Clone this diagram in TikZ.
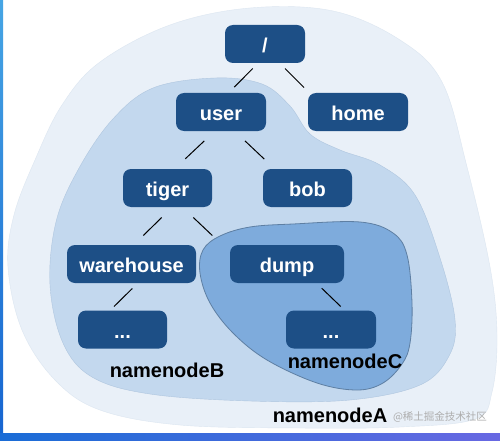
\documentclass[tikz,border=0pt]{standalone}
\usepackage{fontspec}
\setmainfont{Liberation Sans}
\newfontfamily\cjkfont{Noto Sans CJK SC}
\usetikzlibrary{positioning}

\definecolor{dirblue}{HTML}{1D4F86}
\definecolor{areaA}{HTML}{E9F0F8}
\definecolor{edgeA}{HTML}{DCE6F1}
\definecolor{areaB}{HTML}{C3D8EE}
\definecolor{edgeB}{HTML}{AFC6DF}
\definecolor{areaC}{HTML}{7EABDC}
\definecolor{edgeC}{HTML}{5E7FA3}

\begin{document}
\begin{tikzpicture}[x=1pt, y=-1pt,
    dir node/.style = {
        rectangle,
        rounded corners=8pt,
        fill=dirblue,
        text=white,
        font=\fontsize{20}{24}\selectfont\bfseries,
        minimum width=#1,
        minimum height=38pt,
        text height=17pt,
        text depth=0pt,
        inner sep=0pt
    },
    dir node/.default = 89pt,
    link/.style = {line width=1pt, black},
    area label/.style = {font=\fontsize{20}{24}\selectfont\bfseries, inner sep=0pt}
]

\useasboundingbox (0,0) rectangle (500,441);
\fill[white] (0,0) rectangle (500,441);

% frame of the screenshot
\shade[top color={rgb,255:red,70;green,165;blue,228}, bottom color={rgb,255:red,22;green,100;blue,208}]
    (0,0) rectangle (3,441);
\shade[left color={rgb,255:red,26;green,108;blue,214}, right color={rgb,255:red,104;green,104;blue,226}]
    (0,433.5) rectangle (500,441);

% namespaces
\filldraw[fill=areaA, draw=edgeA] plot[smooth cycle, tension=0.6] coordinates {
    (250,8) (333,11) (400,40) (442,82) (467,167) (490,267) (497,335) (492,392)
    (475,419) (400,427) (300,428) (180,425) (100,410) (55,380) (22,330) (8,267)
    (14,215) (35,160) (62,105) (100,62) (170,25)};
\filldraw[fill=areaB, draw=edgeB] plot[smooth cycle, tension=0.6] coordinates {
    (153,88) (215,78) (262,84) (290,106) (310,134) (340,150) (380,165) (415,195)
    (440,258) (455,320) (449,356) (420,385) (350,400) (250,401) (150,394) (92,377)
    (63,343) (50,285) (56,222) (78,170) (112,120)};
\filldraw[fill=areaC, draw=edgeC, line width=0.8pt] plot[smooth cycle, tension=0.6] coordinates {
    (203,250) (220,236) (250,227) (293,224) (360,222) (393,233) (407,255) (412,303)
    (410,343) (402,364) (383,383) (357,390) (317,383) (267,360) (233,333) (210,303)
    (200,273)};

% directory tree
\node[dir node=80pt] (root) at (265,44) {/};
\node[dir node=90pt] (user) at (221,112) {user};
\node[dir node=100pt] (home) at (358,112) {home};
\node[dir node] (tiger) at (167.5,188) {tiger};
\node[dir node] (bob) at (307.5,188) {bob};
\node[dir node=129pt] (warehouse) at (131.5,264) {warehouse};
\node[dir node=114pt] (dump) at (287,264) {dump};
\node[dir node] (moreB) at (122.5,329.5) {...};
\node[dir node=90pt] (moreC) at (331,329.5) {...};

\draw[link] ([shift={(-12.3,5.3)}]root.south) -- ([shift={(13.3,-5.7)}]user.north);
\draw[link] ([shift={(20,5.3)}]root.south) -- ([shift={(-54,-5.3)}]home.north);
\draw[link] ([shift={(-16.7,9.7)}]user.south) -- ([shift={(17.8,-10)}]tiger.north);
\draw[link] ([shift={(24,9.7)}]user.south) -- ([shift={(-43.2,-9.7)}]bob.north);
\draw[link] ([shift={(-5.8,10.3)}]tiger.south) -- ([shift={(11.8,-9.3)}]warehouse.north);
\draw[link] ([shift={(25.8,10.3)}]tiger.south) -- ([shift={(-74.7,-9.3)}]dump.north);
\draw[link] ([shift={(0.8,5.3)}]warehouse.south) -- ([shift={(-8.5,-3.8)}]moreB.north);
\draw[link] ([shift={(34.7,5)}]dump.south) -- ([shift={(9.7,-3.8)}]moreC.north);

% namespace names
\node[area label] (nameB) at (167,370) {namenodeB};
\node[area label] (nameC) at (345,361) {namenodeC};
\node[area label] (nameA) at (330,415.5) {namenodeA};
\node[font=\cjkfont\fontsize{10.5}{12}\selectfont, text=black!32, inner sep=0pt] (mark) at (440,416.5) {@稀土掘金技术社区};

\end{tikzpicture}
\end{document}
